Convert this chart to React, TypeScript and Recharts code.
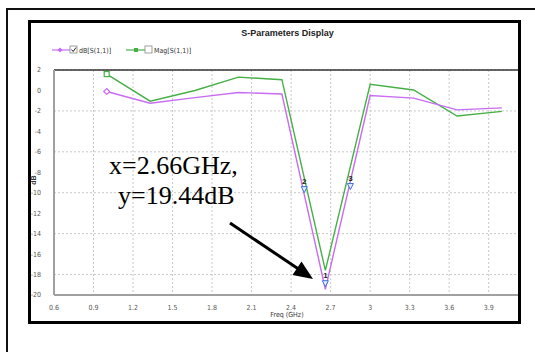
import React from 'react';
import { LineChart, Line, XAxis, YAxis, CartesianGrid, ReferenceDot, ReferenceLine } from 'recharts';

// sweep frequencies (GHz) and the two traces
const freq = [1.0, 1.33, 1.67, 2.0, 2.33, 2.66, 3.0, 3.33, 3.66, 4.0];
const dbS11 = [-0.1, -1.25, -0.7, -0.2, -0.35, -19.44, -0.5, -0.75, -1.9, -1.7];
const magS11 = [1.6, -1.05, 0.0, 1.3, 1.05, -17.6, 0.6, 0.05, -2.5, -2.05];

const xTicks = [0.6, 0.9, 1.2, 1.5, 1.8, 2.1, 2.4, 2.7, 3.0, 3.3, 3.6, 3.9];
const yTicks = [-20, -18, -16, -14, -12, -10, -8, -6, -4, -2, 0, 2];

// numbered markers sitting on the dB trace
const markerIds = ['1', '2', '3'];
const markerFreq = [2.66, 2.5, 2.85];
const markerDb = [-18.8, -9.6, -9.3];

const PURPLE = '#c86cf2';
const GREEN = '#46b046';
const tickStyle = { fill: '#555', fontSize: 7, fontFamily: 'DejaVu Sans Condensed, Arial, sans-serif' };
const serif = 'Liberation Serif, Times New Roman, serif';

const data = freq.map((f, i) => ({ f, db: dbS11[i], mag: magS11[i] }));

const DiamondDot = (props: any) => {
  const { cx, cy, index } = props;
  if (index !== 0) return <g key={`d-${index}`} />;
  return (
    <path key={`d-${index}`} d={`M${cx},${cy - 3}L${cx + 3},${cy}L${cx},${cy + 3}L${cx - 3},${cy}Z`} fill="#fff" stroke={PURPLE} strokeWidth={1.2} />
  );
};

const SquareDot = (props: any) => {
  const { cx, cy, index } = props;
  if (index !== 0) return <g key={`s-${index}`} />;
  return <rect key={`s-${index}`} x={cx - 2.5} y={cy - 2.5} width={5} height={5} fill="#fff" stroke={GREEN} strokeWidth={1.2} />;
};

const markerShape = (id: string) => (p: any) => (
  <g>
    <text x={p.cx} y={p.cy - 5} textAnchor="middle" fontSize={8} fontWeight="bold" fill="#222" fontFamily="Arial">{id}</text>
    <path d={`M${p.cx - 3},${p.cy - 2}L${p.cx + 3},${p.cy - 2}L${p.cx},${p.cy + 4}Z`} fill="#e8f0ff" stroke="#3a6fe0" strokeWidth={1} />
  </g>
);

export default function App() {
  return (
    <div style={{ position: 'fixed', left: 0, top: 0, width: 535, height: 352, background: '#fff', overflow: 'hidden', fontFamily: 'Arial, sans-serif' }}>
      <LineChart width={535} height={352} data={data} margin={{ top: 70, right: 16, left: 0, bottom: 37 }} style={{ position: 'absolute', left: 0, top: 0 }}>
        <CartesianGrid stroke="#c8c8c8" strokeDasharray="2 2" />
        <XAxis
          dataKey="f"
          type="number"
          domain={[0.6, 4.13]}
          ticks={xTicks}
          tickFormatter={(v: number) => String(Math.round(v * 10) / 10)}
          height={20}
          tickLine={false}
          axisLine={{ stroke: '#a0a0a0', strokeWidth: 2 }}
          tick={tickStyle}
          tickMargin={4}
          allowDataOverflow
        />
        <YAxis
          type="number"
          domain={[-20, 2]}
          ticks={yTicks}
          width={54}
          tickLine={false}
          axisLine={{ stroke: '#a0a0a0', strokeWidth: 2 }}
          tick={tickStyle}
          tickMargin={7}
        />
        <ReferenceLine y={2} stroke="#333" strokeWidth={1.5} />
        <Line dataKey="mag" stroke={GREEN} strokeWidth={1.4} dot={SquareDot} isAnimationActive={false} />
        <Line dataKey="db" stroke={PURPLE} strokeWidth={1.4} dot={DiamondDot} isAnimationActive={false} />
        {markerIds.map((id, i) => (
          <ReferenceDot key={id} x={markerFreq[i]} y={markerDb[i]} shape={markerShape(id)} />
        ))}
      </LineChart>

      <div style={{ position: 'absolute', left: 0, width: 575, top: 28, textAlign: 'center', fontSize: 9, fontWeight: 'bold', color: '#222' }}>
        S-Parameters Display
      </div>

      <svg style={{ position: 'absolute', left: 0, top: 0 }} width={535} height={352}>
        {/* window frames */}
        <rect x={7} y={9} width={560} height={380} fill="none" stroke="#111" strokeWidth={2} />
        <rect x={29.5} y={21.5} width={490} height={301} fill="none" stroke="#000" strokeWidth={3} />

        <line x1={52} y1={50} x2={70} y2={50} stroke={PURPLE} strokeWidth={1.2} />
        <path d="M60,47.5L62.5,50L60,52.5L57.5,50Z" fill={PURPLE} />
        <rect x={70} y={46} width={7} height={7} fill="#fff" stroke="#888" strokeWidth={0.8} />
        <path d="M71.5,49.5L73.2,51.5L76,47.5" fill="none" stroke="#222" strokeWidth={1} />
        <text x={79} y={52.5} fontSize={7} fill="#333" fontFamily="DejaVu Sans Condensed, Arial">dB[S(1,1)]</text>
        <line x1={126} y1={50} x2={145} y2={50} stroke={GREEN} strokeWidth={1.2} />
        <rect x={134} y={48} width={4} height={4} fill={GREEN} />
        <rect x={145} y={46} width={7} height={7} fill="#fff" stroke="#888" strokeWidth={0.8} />
        <text x={154} y={52.5} fontSize={7} fill="#333" fontFamily="DejaVu Sans Condensed, Arial">Mag[S(1,1)]</text>

        <text x={36} y={180} fontSize={7} fontWeight="bold" fill="#333" textAnchor="middle" transform="rotate(-90 36 180)">dB</text>
        <text x={287} y={317} fontSize={7} fill="#333" textAnchor="middle" fontFamily="DejaVu Sans Condensed, Arial">Freq (GHz)</text>

        <text x={109} y={174} fontSize={26} fill="#000" fontFamily={serif}>x=2.66GHz,</text>
        <text x={118} y={204} fontSize={26} fill="#000" fontFamily={serif}>y=19.44dB</text>

        <line x1={230} y1={223} x2={300} y2={270} stroke="#000" strokeWidth={3} />
        <path d="M313,279L292.5,275L301.5,261.5Z" fill="#000" />
      </svg>
    </div>
  );
}
